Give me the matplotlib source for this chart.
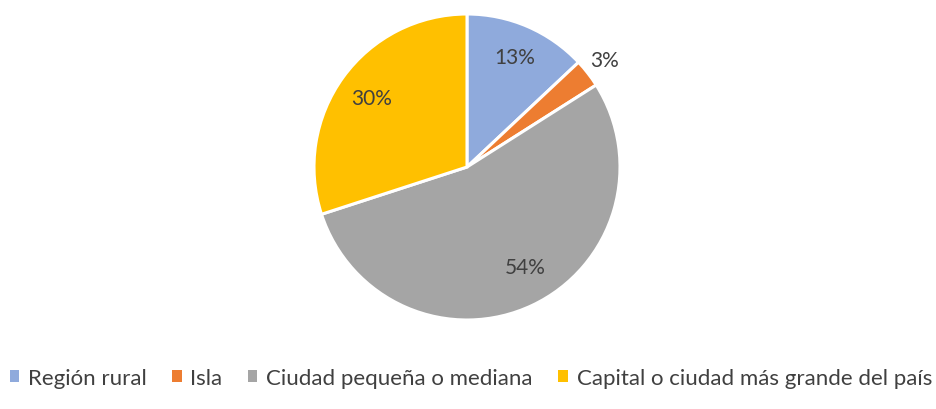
import numpy as np
import matplotlib.pyplot as plt
from matplotlib.patches import Patch

# --- Daten ---
categorias = ["Región rural", "Isla", "Ciudad pequeña o mediana",
              "Capital o ciudad más grande del país"]
valores = [13, 3, 54, 30]
colores = ["#8FAADC", "#ED7D31", "#A5A5A5", "#FFC000"]
dist_etiqueta = [0.78, 1.14, 0.76, 0.77]
winkel_korr = [0, 0, 5, 0]  # Grad, Etiketten wie im Original leicht verschoben

plt.rcParams['font.family'] = ['Lato', 'DejaVu Sans']
texto = "#404040"

fig = plt.figure(figsize=(9.36, 4.10), dpi=100)
# Kreis: Mitte (467,168), Radius 153 px
cx, cy, r = 467, 168, 153
ax = fig.add_axes([(cx - r) / 936, (410 - cy - r) / 410, 2 * r / 936, 2 * r / 410])

wedges, _ = ax.pie(valores, colors=colores, startangle=90, counterclock=False,
                   radius=1, wedgeprops=dict(edgecolor="white", linewidth=2.2))
ax.set_xlim(-1, 1)
ax.set_ylim(-1, 1)
ax.set_aspect("equal")
ax.axis("off")

# --- Prozent-Beschriftungen ---
for w, v, d, k in zip(wedges, valores, dist_etiqueta, winkel_korr):
    ang = np.deg2rad((w.theta1 + w.theta2) / 2 + k)
    ax.text(d * np.cos(ang), d * np.sin(ang), f"{v}%", ha="center", va="center",
            fontsize=15, color=texto, clip_on=False)

# --- Legende ---
handles = [Patch(facecolor=c, edgecolor="none") for c in colores]
fig.legend(handles, categorias, loc="center", bbox_to_anchor=(0.503, 1 - 379 / 410),
           ncol=4, frameon=False, fontsize=16, labelcolor=texto,
           handlelength=0.42, handleheight=0.42, handletextpad=0.4, columnspacing=1.15)

fig.savefig("out.png", dpi=100)
